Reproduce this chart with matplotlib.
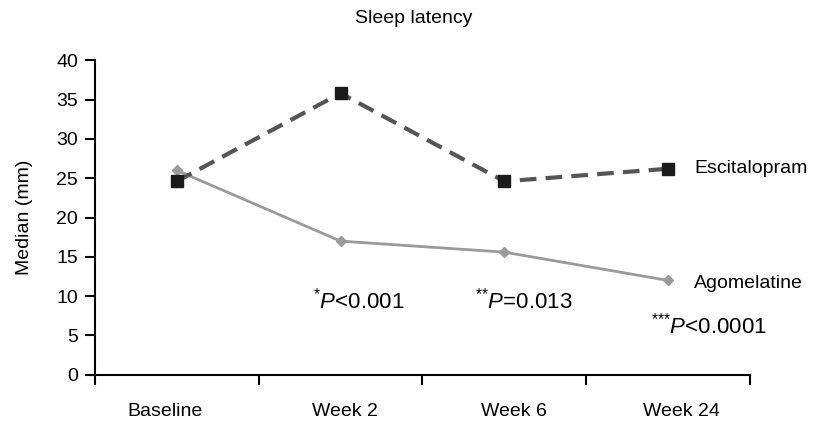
import matplotlib.pyplot as plt
import numpy as np

plt.rcParams['font.family'] = ['Liberation Sans', 'DejaVu Sans']
plt.rcParams['mathtext.fontset'] = 'custom'
plt.rcParams['mathtext.rm'] = 'Liberation Sans'
plt.rcParams['mathtext.it'] = 'Liberation Sans:italic'

# data
categories = ["Baseline", "Week 2", "Week 6", "Week 24"]
escitalopram = [24.6, 35.8, 24.6, 26.2]
agomelatine = [26.0, 17.0, 15.6, 12.0]
pvals = [r"$^{{*}}\mathit{P}$<0.001", r"$^{{*}{*}}\mathit{P}$=0.013",
         r"$^{{*}{*}{*}}\mathit{P}$<0.0001"]

# layout (axes data coords)
pval_pos = [(1.61, 9.4), (2.62, 9.4), (3.75, 6.3)]
label_pos = [0.43, 1.53, 2.56, 3.58]

x = np.arange(len(categories)) + 0.5

fig = plt.figure(figsize=(8.25, 4.24), dpi=100)
ax = fig.add_axes([0.115, 0.116, 0.794, 0.742])

ax.plot(x, escitalopram, color='#555555', lw=3, ls=(0, (4, 2.2)),
        marker='s', ms=8, mfc='#1a1a1a', mec='#1a1a1a', zorder=3)
ax.plot(x, agomelatine, color='#9a9a9a', lw=2, ls='-',
        marker='D', ms=5, mfc='#9a9a9a', mec='#9a9a9a', zorder=2)

ax.text(x[-1] + 0.16, escitalopram[-1], "Escitalopram", fontsize=14, va='center', ha='left')
ax.text(x[-1] + 0.16, agomelatine[-1] - 0.4, "Agomelatine", fontsize=14, va='center', ha='left')

for (px, py), s in zip(pval_pos, pvals):
    ax.text(px, py, s, fontsize=16, ha='center', va='center')

ax.set_xlim(0, 4)
ax.set_ylim(0, 40)
ax.set_yticks(np.arange(0, 41, 5))
ax.set_xticks(np.arange(0, 5))
ax.set_xticklabels([])
ax.set_xticks(label_pos, minor=True)
ax.set_xticklabels(categories, minor=True, fontsize=14)
ax.tick_params(axis='x', which='minor', length=0, pad=20)
ax.tick_params(axis='x', which='major', length=7, width=1.5, direction='out')
ax.tick_params(axis='y', length=7, width=1.5, labelsize=14, pad=5)

for s in ['top', 'right']:
    ax.spines[s].set_visible(False)
ax.spines['left'].set_linewidth(1.5)
ax.spines['bottom'].set_linewidth(1.5)
ax.spines['bottom'].set_bounds(-0.03, 4)

ax.set_ylabel("Median (mm)", fontsize=14, labelpad=17)
fig.text(0.502, 0.957, "Sleep latency", fontsize=14, ha='center', va='center')

fig.savefig("out.png", dpi=100)
